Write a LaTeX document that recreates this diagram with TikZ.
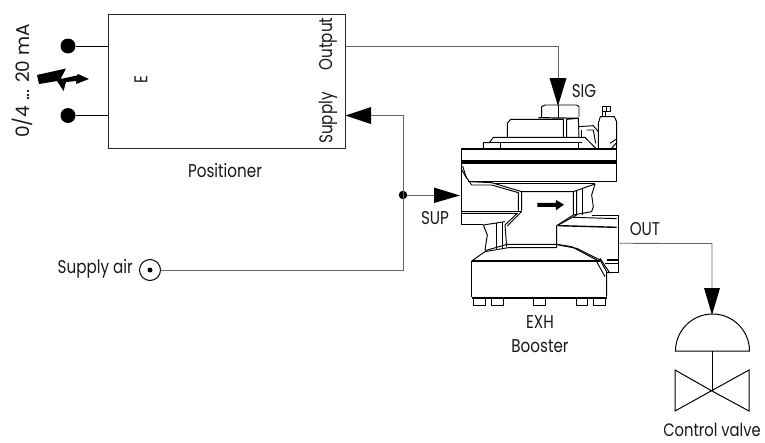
\documentclass[tikz,border=0pt]{standalone}
\usepackage{fontspec}
\setmainfont[FakeStretch=0.82]{Poppins}
\newfontfamily\widefam{Poppins}
\usetikzlibrary{arrows.meta}
\tikzset{
 x=1pt,y=-1pt,
 lbl/.style={inner sep=0pt,font=\fontsize{18.5}{20}\selectfont,text=black!90},
 wire/.style={draw=black!60,line width=0.8pt},
 wired/.style={draw=black,line width=1pt},
 bl/.style={line width=0.95pt,line join=round},
 bk/.style={line width=2.4pt},
}
\begin{document}
\begin{tikzpicture}
\useasboundingbox[fill=white] (0,0) rectangle (765,442);
% positioner
\node[draw=black!85,line width=1pt,minimum width=236.5pt,minimum height=134pt,inner sep=0pt] (pos) at (226.75,81) {};
\node[lbl,rotate=90] (e) at (141,80) {E};
\node[lbl,rotate=90] (outp) at (328,44) {Output};
\node[lbl,rotate=90] (supp) at (328,118) {Supply};
\node[lbl] (posl) at (225,170.5) {Positioner};
\node[lbl,rotate=90,font=\widefam\fontsize{18.5}{20}\selectfont] (ma) at (22,81) {0/4 ... 20 mA};
\node[circle,fill=black,minimum size=15pt,inner sep=0pt] (t1) at (68,46) {};
\node[circle,fill=black,minimum size=15pt,inner sep=0pt] (t2) at (68,115.5) {};
\coordinate (p1) at (pos.west |- t1);
\coordinate (p2) at (pos.west |- t2);
\draw[wired] (t1) -- (p1);
\draw[wired] (t2) -- (p2);
% lightning
\fill[black] (37,75) -- (66,68.5) -- (60.5,79) -- (77,75.5) -- (78,74) -- (89,79) -- (76,84) -- (76.5,81) -- (66,82) -- (63.5,91) -- (57,81) -- (39,84) -- cycle;
% pneumatic
\coordinate (oa) at (pos.east |- t1);
\coordinate (sa) at (pos.east |- t2);
\coordinate (sigtip) at (558,106);
\coordinate (oc) at (558,46);
\draw[wire] (oa) -- (oc) -- (558,80);
\fill[black] (549.5,78) -- (566.5,78) -- (sigtip) -- cycle;
\coordinate (corner) at (403,115.5);
\coordinate (low) at (403,270);
\node[circle,fill=black,minimum size=8.5pt,inner sep=0pt] (dot) at (403,195) {};
\node[circle,draw=black,line width=1pt,minimum size=21pt,inner sep=0pt,fill=white] (sa2) at (150,270) {};
\node[circle,fill=black,minimum size=5pt,inner sep=0pt] (sa3) at (150,270) {};
\draw[wire] (sa2) -- (low) -- (corner) -- (371,115.5);
\fill[black] (371,107) -- (371,124) -- (sa) -- cycle;
\draw[wire] (dot) -- (434,195);
\fill[black] (434,187.5) -- (434,203) -- (460,195.5) -- cycle;
\node[lbl,anchor=east] (sl) at (133,269) {Supply air};
\node[lbl] (sup) at (435,218) {SUP};
\node[lbl] (sig) at (584,91) {SIG};
\node[lbl] (outl) at (645,229) {OUT};
\node[lbl] (exh) at (540,322) {EXH};
\node[lbl] (boo) at (540,346) {Booster};
\node[lbl,font=\fontsize{18}{20}\selectfont] (cv) at (712,430) {Control valve};
% booster
\begin{scope}[shift={(430,80)},x=0.3333pt,y=-0.3333pt]
\draw[bl] (335,112) -- (335,80) -- (345,75) -- (440,75) -- (447,80) -- (447,112);
\draw[bl,line width=1.2pt] (325,113) -- (445,115);
\draw[bl] (385,75) -- (385,115);
\draw[bl] (232,172) -- (232,130) -- (242,118) -- (400,118) -- (400,172);
\draw[bl] (410,172) -- (410,118) -- (445,115) -- (447,172);
\draw[bl] (160,205) -- (160,188) -- (178,188) -- (190,172) -- (465,172) -- (497,205);
\draw[bl] (180,188) -- (455,188);
\draw[bl] (210,188) -- (210,205);
\draw[bl] (445,188) -- (445,205);
\draw[bl] (447,140) -- (490,137) -- (505,155);
\draw[bl] (455,150) -- (455,172);
\draw[bl] (470,150) -- (490,150) -- (497,190);
\draw[bl] (505,205) -- (505,130) -- (511,110) -- (553,110) -- (560,125) -- (560,205);
\draw[bl] (516,110) -- (516,80) -- (542,80) -- (542,95) -- (516,95);
\draw[bl] (530,80) -- (530,95);
\draw[bl] (525,95) -- (525,110);
\draw[bl] (540,190) -- (558,178);
\draw[bl] (545,205) -- (558,190);
\draw[bl] (93,208) rectangle (560,250);
\draw[bl,line width=1.4pt] (93,206) -- (560,206);
\draw[bk,line width=3pt] (93,245) -- (560,245);
\draw[bl] (560,250) -- (560,305) -- (115,305);
\draw[bl] (93,250) -- (93,432) -- (160,432);
\draw[bl] (98,258) -- (108,290) -- (125,315) -- (185,315);
\draw[bl] (93,265) -- (110,295);
\draw[bl] (120,305) -- (185,308) -- (275,335) -- (275,392);
\draw[bl] (185,315) -- (265,338) -- (265,392);
\draw[bl] (275,335) -- (430,335) -- (495,312);
\draw[bl] (190,310) -- (495,310);
\draw[bl] (430,335) -- (430,405) -- (380,437) -- (380,503);
\draw[bl] (440,333) -- (440,405) -- (385,435);
\draw[bl] (458,325) -- (458,405);
\draw[bl] (495,312) -- (485,345) -- (490,380) -- (485,395) -- (430,405);
\draw[bl] (485,405) -- (565,405) -- (565,578) -- (530,578);
\draw[bl] (430,412) -- (560,416);
\draw[bl,line width=1.4pt] (385,437) -- (560,442);
\draw[bl,line width=1.4pt] (95,394) -- (275,394);
\draw[bl] (95,400) -- (262,400) -- (225,435) -- (230,500);
\draw[bl] (275,395) -- (232,438);
\draw[bl] (160,435) -- (225,425);
\draw[bl] (200,428) -- (200,510);
\draw[bl] (218,426) -- (218,505);
\draw[bl] (160,435) -- (172,465) -- (165,510);
\draw[bl] (165,512) -- (232,493) -- (380,493) -- (425,500) -- (500,540);
\draw[bl] (125,543) -- (165,515) -- (235,503) -- (380,503);
\draw[bl] (385,495) -- (440,505) -- (510,540) -- (530,575) -- (530,650);
\draw[bl] (510,535) -- (540,580);
\draw[bl] (500,545) -- (525,590);
\draw[bl,line width=1.4pt] (530,540) -- (565,540);
\draw[bl] (525,550) -- (565,550);
\draw[bl,line width=1.6pt] (125,543) -- (510,543);
\draw[bl] (125,543) -- (125,652);
\draw[bl,line width=2.2pt] (125,653) -- (532,653);
\foreach \a/\b in {130/165,185/220,310/345,438/472,490/525}{
 \draw[bl] (\a,658) -- (\a,675) -- (\b,675) -- (\b,658);}
\fill[black] (322,369) -- (378,369) -- (378,360) -- (402,374) -- (378,391) -- (378,381) -- (322,381) -- cycle;
\coordinate (boutr) at (565,490);
\end{scope}
% output to valve
\coordinate (vc) at (712,243.5);
\coordinate (vt) at (712,288);
\draw[wire] (boutr) -- (vc) -- (vt);
\fill[black] (704,288) -- (720,288) -- (712,315) -- cycle;
\coordinate (domeL) at (675.5,351);
\coordinate (domeR) at (749.5,351);
\draw[line width=1pt] (domeL) arc[start angle=180,end angle=360,x radius=37,y radius=37] -- cycle;
\coordinate (vm) at (712,391);
\draw[line width=1pt] (712,351) -- (vm);
\draw[line width=1pt,line join=miter] (vm) -- (675,370) -- (675,411) -- (749,370) -- (749,411) -- cycle;
\end{tikzpicture}
\end{document}
